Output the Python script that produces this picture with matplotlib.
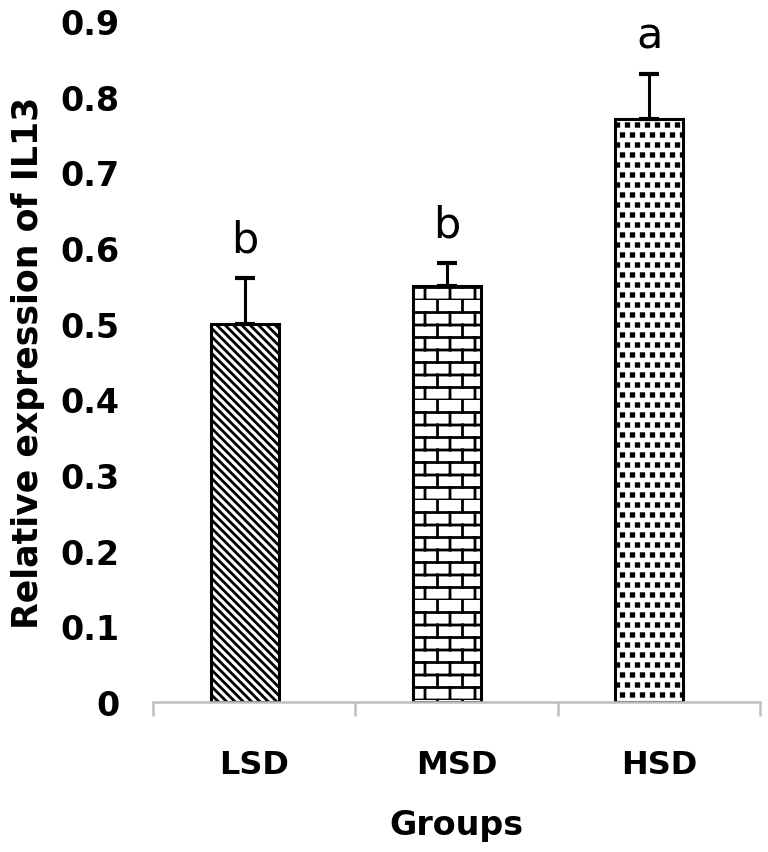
import numpy as np
import matplotlib
matplotlib.use("Agg")
import matplotlib.pyplot as plt
from matplotlib import hatch as mhatch
from matplotlib.path import Path

groups = ["LSD", "MSD", "HSD"]
means = [0.50, 0.55, 0.77]
errors = [0.06, 0.03, 0.06]
letters = ["b", "b", "a"]
yticks = [0, 0.1, 0.2, 0.3, 0.4, 0.5, 0.6, 0.7, 0.8, 0.9]
hatches = ["\\\\\\\\", "*", "."]


# brick pattern for the middle bar (excel style), hooked onto the '*' char
class BrickHatch(mhatch.HatchPatternBase):
    rows = 8
    cols = 4

    def __init__(self, hatch, density):
        self.on = hatch.count('*') > 0
        n_h = self.rows
        n_v = self.rows * self.cols
        self.num_vertices = (n_h + n_v) * 2 if self.on else 0

    def set_vertices_and_codes(self, vertices, codes):
        segs = []
        for k in range(self.rows):
            y0 = k / self.rows
            y1 = (k + 1) / self.rows
            segs.append(((0.0, y0), (1.0, y0)))
            shift = 0.5 / self.cols if k % 2 else 0.0
            for j in range(self.cols):
                xv = j / self.cols + shift
                segs.append(((xv, y0), (xv, y1)))
        vertices[:] = np.array(segs).reshape(-1, 2)
        codes[0::2] = Path.MOVETO
        codes[1::2] = Path.LINETO


# small filled squares, staggered rows, hooked onto '.'
class SquareDotHatch(mhatch.HatchPatternBase):
    n = 10
    side = 0.42

    def __init__(self, hatch, density):
        self.on = hatch.count('.') > 0
        self.num_vertices = self.n * self.n * 5 if self.on else 0

    def set_vertices_and_codes(self, vertices, codes):
        h = self.side / self.n / 2
        pts = []
        for k in range(self.n):
            cy = (k + 0.5) / self.n
            off = 0.25 if k % 2 == 0 else 0.75
            for j in range(self.n):
                cx = (j + off) / self.n
                pts += [(cx - h, cy - h), (cx + h, cy - h), (cx + h, cy + h),
                        (cx - h, cy + h), (cx - h, cy - h)]
        vertices[:] = np.array(pts)
        c = np.full(len(pts), Path.LINETO, dtype=codes.dtype)
        c[0::5] = Path.MOVETO
        c[4::5] = Path.CLOSEPOLY
        codes[:] = c


mhatch._hatch_types[:] = [t for t in mhatch._hatch_types
                          if t not in (mhatch.Stars, mhatch.SmallFilledCircles)] + [BrickHatch, SquareDotHatch]

plt.rcParams['font.family'] = ['DejaVu Sans']
plt.rcParams['hatch.linewidth'] = 1.8

fig = plt.figure(figsize=(7.68, 8.53), dpi=100)
ax = fig.add_axes([153 / 768, 150 / 853, 607 / 768, 681 / 853])

x = np.arange(len(groups))
bar_x = x - 0.047
for xi, m, e, h in zip(bar_x, means, errors, hatches):
    lw = 0.8 if h == "." else 2.0
    with plt.rc_context({'hatch.linewidth': lw}):
        ax.bar(xi, m, width=0.335, color='white', edgecolor='black', linewidth=2.2, hatch=h, zorder=2)
    ax.errorbar(xi, m, yerr=[[0], [e]], color='black', elinewidth=2.2, capsize=7, capthick=3, zorder=3)

for xi, m, e, lab in zip(bar_x, means, errors, letters):
    ax.text(xi, m + e + 0.035, lab, ha='center', va='baseline', fontsize=31)

ax.set_xlim(-0.5, 2.5)
ax.set_ylim(0, 0.9)
ax.set_yticks(yticks)
ax.set_yticklabels([f"{t:g}" for t in yticks], fontsize=24, fontweight='bold')
ax.set_xticks(x)
ax.set_xticklabels(groups, fontsize=23, fontweight='bold')
ax.set_xticks(np.append(x - 0.5, x[-1] + 0.5), minor=True)
ax.tick_params(axis='x', which='major', length=0, pad=34)
ax.tick_params(axis='x', which='minor', length=10, width=1.8, color='#bfbfbf', direction='out')
ax.tick_params(axis='y', length=0, pad=24)

for s in ['top', 'right', 'left']:
    ax.spines[s].set_visible(False)
ax.spines['bottom'].set_color('#bfbfbf')
ax.spines['bottom'].set_linewidth(1.8)

ax.set_ylabel("Relative expression of IL13", fontsize=25, fontweight='bold')
ax.yaxis.set_label_coords(-0.178, 0.5)
ax.set_xlabel("Groups", fontsize=24, fontweight='bold')
ax.xaxis.set_label_coords(0.5, -0.155)

fig.savefig("out.png", dpi=100)
